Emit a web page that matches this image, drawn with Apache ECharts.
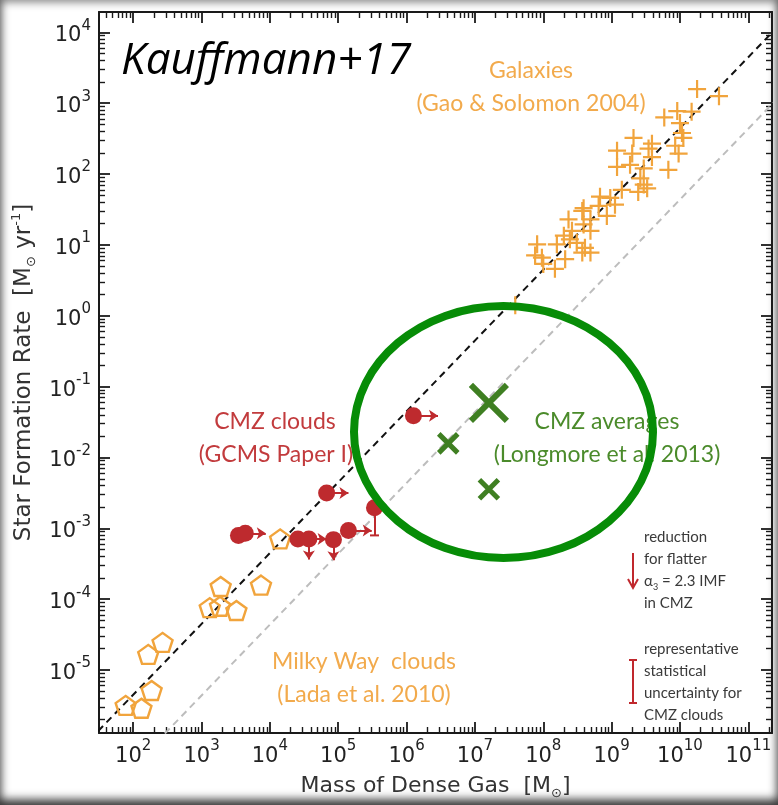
<!DOCTYPE html>
<html><head><meta charset="utf-8">
<script src="https://cdn.jsdelivr.net/npm/echarts@6/dist/echarts.min.js"></script>
<style>
html,body{margin:0;padding:0;background:#fff;}
#c{width:778px;height:805px;background:#fff;box-shadow:inset 0 -9px 10px -3px rgba(0,0,0,0.6), inset 0 0 8px 2px rgba(0,0,0,0.5);}
</style></head><body><div id="c"></div>
<script>
// ---------------- DATA ----------------
// Galaxies (Gao & Solomon 2004): dense gas mass [Msun], SFR [Msun/yr]
const galaxyMass = [1.78e10,3.72e10,5.89e9,9.12e9,1.48e10,1.0e10,1.07e10,1.12e10,8.51e9,9.55e9,2.09e9,1.20e9,2.0e9,3.89e9,3.47e9,3.89e9,1.86e9,1.20e9,6.76e9,2.95e9,2.63e9,2.95e9,3.31e9,2.45e9,1.41e9,6.76e8,9.55e8,1.12e9,6.46e8,3.89e8,8.51e8,4.90e8,2.34e8,3.89e8,2.63e8,2.0e8,4.90e8,2.45e8,3.09e8,4.07e8,3.72e8,4.90e8,8.13e7,7.59e7,9.55e7,1.58e8,2.09e8,1.48e8,1.0e8,3.89e7,3.72e8];
const galaxySFR = [1585,1259,631,776,759,525,380,324,251,195,324,214,195,269,229,174,135,126,115,120,87,71,63,56,60,48,46,37,35.5,33,25.7,22.9,22.9,19.5,15.8,13.5,15.8,12.0,10.7,9.1,7.8,7.8,10.2,7.1,6.6,10.2,6.3,4.6,5.4,1.41,30.2];
// Milky Way clouds (Lada et al. 2010)
const mwMass = [77.6,132,186,166,269,1318,1905,1862,3236,7413,14125];
const mwSFR = [3.16e-6,2.88e-6,5.13e-6,1.66e-5,2.45e-5,7.59e-5,1.51e-4,7.94e-5,6.92e-5,1.58e-4,7.08e-4];
// CMZ clouds (GCMS Paper I)
const cmzMass = [3467,4365,6.76e4,2.57e4,3.72e4,8.51e4,1.41e5,3.39e5,1.26e6];
const cmzSFR = [7.94e-4,8.51e-4,3.16e-3,7.08e-4,7.08e-4,6.92e-4,9.33e-4,1.95e-3,3.89e-2];
// CMZ limit arrows: start (mass, SFR) -> end (mass, SFR)
const arrowFromMass = [4365,6.76e4,3.72e4,3.72e4,8.51e4,1.41e5,1.26e6];
const arrowFromSFR  = [8.51e-4,3.16e-3,7.08e-4,7.08e-4,6.92e-4,9.33e-4,3.89e-2];
const arrowToMass   = [8710,1.41e5,6.76e4,3.72e4,8.51e4,3.09e5,2.88e6];
const arrowToSFR    = [8.51e-4,3.16e-3,7.08e-4,3.63e-4,3.55e-4,9.33e-4,3.89e-2];
// CMZ reduction bar (one cloud)
const barMass = [3.39e5,3.39e5];
const barSFR = [1.95e-3,7.94e-4];
// CMZ averages (Longmore et al. 2013)
const cmzAvgMass = [1.6e7,4.07e6,1.6e7];
const cmzAvgSFR = [5.89e-2,1.58e-2,3.55e-3];
// Relations
const blackLineMass = [10,1e12];
const blackLineSFR = [4.47e-7,4.47e4];
const grayLineMass = [10,1e12];
const grayLineSFR = [4.37e-8,4.37e3];
// Axis ticks
const xMajorTicks = [1e2,1e3,1e4,1e5,1e6,1e7,1e8,1e9,1e10,1e11];
const yMajorTicks = [1e-5,1e-4,1e-3,1e-2,1e-1,1e0,1e1,1e2,1e3,1e4];
const X_MIN = 31.6, X_MAX = 2.22e11, Y_MIN = 1.29e-6, Y_MAX = 1.94e4;

// ---------------- BUILD ----------------
function minorTicks(lo, hi, a, b){
  const out=[];
  for(let e=lo;e<=hi;e++){for(let k=2;k<=9;k++){const v=k*Math.pow(10,e); if(v>a&&v<b) out.push(v);}}
  return out;
}
const xMinorTicks = minorTicks(1,11,X_MIN,X_MAX);
const yMinorTicks = minorTicks(-6,4,Y_MIN,Y_MAX);

const INK='#1a1a1a';
const tickRich = {
  b:{fontFamily:'DejaVu Sans',fontSize:21,color:'#222',lineHeight:28,verticalAlign:'bottom'},
  s:{fontFamily:'DejaVu Sans',fontSize:15,color:'#222',lineHeight:17,verticalAlign:'top'}
};
function sciLabel(v){
  const e=Math.round(Math.log10(v));
  return '{b|10}{s|'+e+'}';
}
function axis(dim,pos,ticks,len,line,label,extra){
  const o={
    type:'log', position:pos,
    min: dim==='x'?X_MIN:Y_MIN, max: dim==='x'?X_MAX:Y_MAX,
    axisLine:{show:line,onZero:false,lineStyle:{color:INK,width:2}},
    axisTick:{show:true,inside:true,length:len,customValues:ticks,lineStyle:{color:INK,width:len>8?1.8:1.4}},
    axisLabel:label?{show:true,customValues:ticks,formatter:sciLabel,rich:tickRich,margin:dim==='x'?6:8}:{show:false},
    splitLine:{show:false},minorTick:{show:false}
  };
  return Object.assign(o,extra||{});
}
const nameRich = {
  sub:{fontFamily:'DejaVu Sans',fontSize:13,color:'#333',lineHeight:13,verticalAlign:'bottom'},
  sup:{fontFamily:'DejaVu Sans',fontSize:13,color:'#333',lineHeight:13,verticalAlign:'top'}
};
const xAxes=[
  axis('x','bottom',xMajorTicks,11,true,true,{
    name:'Mass of Dense Gas  [M{sub|\u2299}]',nameLocation:'middle',nameGap:39,
    nameTextStyle:{fontFamily:'DejaVu Sans',fontSize:22,color:'#333',lineHeight:28,rich:nameRich}}),
  axis('x','bottom',xMinorTicks,6,false,false),
  axis('x','top',xMajorTicks,11,true,false),
  axis('x','top',xMinorTicks,6,false,false)
];
const yAxes=[
  axis('y','left',yMajorTicks,11,true,true,{
    name:'Star Formation Rate  [M{sub|\u2299} yr{sup|-1}]',nameLocation:'middle',nameGap:44,
    nameTextStyle:{fontFamily:'DejaVu Sans',fontSize:23,color:'#333',lineHeight:28,rich:nameRich}}),
  axis('y','left',yMinorTicks,6,false,false),
  axis('y','right',yMajorTicks,11,true,false),
  axis('y','right',yMinorTicks,6,false,false)
];

const ORANGE='#F1A43C', RED='#BE2A2E', GREEN='#3F7F22';
const pairs=(a,b)=>a.map((v,i)=>[v,b[i]]);
const avgSizes=[36,19,19], avgWidths=[6,5,5];

const option={
  backgroundColor:'transparent',
  animation:false,
  grid:{left:99,right:6,top:12,bottom:63,containLabel:false},
  xAxis:xAxes, yAxis:yAxes,
  series:[
    {type:'line',data:pairs(grayLineMass,grayLineSFR),showSymbol:false,symbol:'none',clip:true,z:1,
      lineStyle:{color:'#bdbdbd',width:2,type:[7,5]}},
    {type:'line',data:pairs(blackLineMass,blackLineSFR),showSymbol:false,symbol:'none',clip:true,z:1,
      lineStyle:{color:'#111',width:2,type:[7,5]}},
    {type:'scatter',data:pairs(galaxyMass,galaxySFR),symbol:'path://M0,10L20,10M10,0L10,20',symbolSize:18,z:3,
      itemStyle:{color:'transparent',borderColor:ORANGE,borderWidth:2.2,opacity:1}},
    {type:'scatter',data:pairs(mwMass,mwSFR),
      symbol:'path://M0,-1L0.951,-0.309L0.588,0.809L-0.588,0.809L-0.951,-0.309Z',symbolSize:[20,19],z:3,
      itemStyle:{color:'transparent',borderColor:ORANGE,borderWidth:2.4,opacity:1}},
    {type:'lines',coordinateSystem:'cartesian2d',z:4,
      data:arrowFromMass.map((m,i)=>({coords:[[m,arrowFromSFR[i]],[arrowToMass[i],arrowToSFR[i]]]})),
      symbol:['none','arrow'],symbolSize:9,lineStyle:{color:RED,width:2,opacity:1}},
    {type:'lines',coordinateSystem:'cartesian2d',z:4,
      data:[{coords:pairs(barMass,barSFR)}],symbol:'none',lineStyle:{color:RED,width:2,opacity:1}},
    {type:'scatter',data:[[barMass[1],barSFR[1]]],symbol:'rect',symbolSize:[9,2],z:4,itemStyle:{color:RED,opacity:1}},
    {type:'scatter',data:pairs(cmzMass,cmzSFR),symbol:'circle',symbolSize:17,z:5,itemStyle:{color:RED,opacity:1}},
    {type:'scatter',z:5,
      data:cmzAvgMass.map((m,i)=>({value:[m,cmzAvgSFR[i]],symbolSize:avgSizes[i],itemStyle:{borderWidth:avgWidths[i]}})),
      symbol:'path://M0,0L10,10M10,0L0,10',
      itemStyle:{color:'transparent',borderColor:GREEN,opacity:1}}
  ],
  graphic:[
    {type:'text',left:121,top:39,style:{text:'Kauffmann+17',font:'italic 44px "Open Sans"',fill:'#000'}},
    {type:'text',x:531,y:71,style:{text:'Galaxies',font:'23px Lato',fill:'#F2AA4C',align:'center',verticalAlign:'middle'}},
    {type:'text',x:531,y:104,style:{text:'(Gao & Solomon 2004)',font:'23px Lato',fill:'#F2AA4C',align:'center',verticalAlign:'middle'}},
    {type:'text',x:275,y:422,style:{text:'CMZ clouds',font:'23px Lato',fill:'#C23B3D',align:'center',verticalAlign:'middle'}},
    {type:'text',x:276,y:455,style:{text:'(GCMS Paper I)',font:'23px Lato',fill:'#C23B3D',align:'center',verticalAlign:'middle'}},
    {type:'text',x:607,y:422,style:{text:'CMZ averages',font:'23px Lato',fill:'#4B8B2B',align:'center',verticalAlign:'middle'}},
    {type:'text',x:607,y:455,style:{text:'(Longmore et al. 2013)',font:'23px Lato',fill:'#4B8B2B',align:'center',verticalAlign:'middle'}},
    {type:'text',x:364,y:662,style:{text:'Milky Way  clouds',font:'23px Lato',fill:'#F2AA4C',align:'center',verticalAlign:'middle'}},
    {type:'text',x:364,y:695,style:{text:'(Lada et al. 2010)',font:'23px Lato',fill:'#F2AA4C',align:'center',verticalAlign:'middle'}},
    {type:'text',x:644,y:526,style:{text:'reduction\nfor flatter\n{t|\u03b1}{sub|3}{t| = 2.3 IMF}\nin CMZ',
      font:'15px Lato',fill:'#3a3a3a',lineHeight:22,verticalAlign:'top',
      rich:{t:{font:'15px Lato',fill:'#3a3a3a',lineHeight:22},sub:{font:'9px Lato',fill:'#3a3a3a',lineHeight:12,verticalAlign:'bottom'}}}},
    {type:'text',x:644,y:638,style:{text:'representative\nstatistical\nuncertainty for\nCMZ clouds',
      font:'15px Lato',fill:'#3a3a3a',lineHeight:22,verticalAlign:'top'}},
    {type:'line',shape:{x1:633,y1:553,x2:633,y2:587},style:{stroke:'#C0282D',lineWidth:2}},
    {type:'polyline',shape:{points:[[628,579],[633,588],[638,579]]},style:{stroke:'#C0282D',lineWidth:2,fill:null}},
    {type:'line',shape:{x1:633,y1:660,x2:633,y2:703},style:{stroke:'#C0282D',lineWidth:2}},
    {type:'line',shape:{x1:629,y1:660,x2:637,y2:660},style:{stroke:'#C0282D',lineWidth:2}},
    {type:'line',shape:{x1:629,y1:703,x2:637,y2:703},style:{stroke:'#C0282D',lineWidth:2}},
    {type:'ellipse',z:100,shape:{cx:503.5,cy:432,rx:149.5,ry:126},style:{fill:null,stroke:'#078C07',lineWidth:8}}
  ]
};
const chart=echarts.init(document.getElementById('c'),null,{renderer:'canvas'});
chart.setOption(option);
</script></body></html>
